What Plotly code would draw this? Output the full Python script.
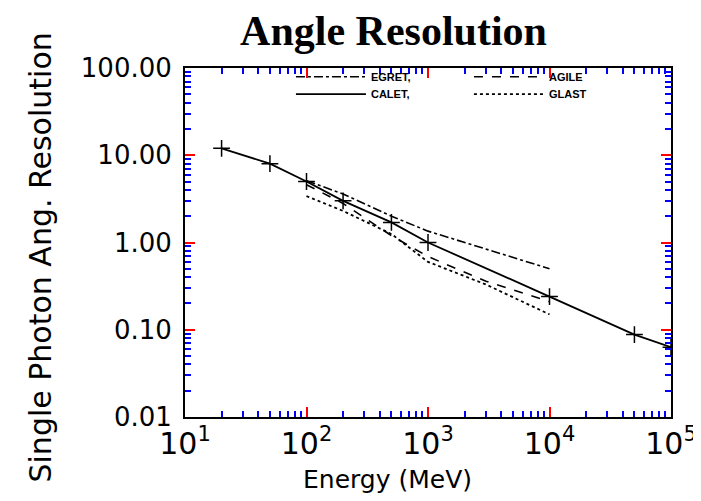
import plotly.graph_objects as go

# Energy (MeV) and single photon angular resolution (deg)
calet_e = [20, 50, 100, 200, 500, 1000, 10000, 50000, 100000]
calet_r = [12.0, 8.0, 5.0, 3.0, 1.7, 1.0, 0.24, 0.088, 0.063]

egret_e = [100, 200, 500, 1000, 10000]
egret_r = [5.1, 3.6, 2.0, 1.35, 0.50]

agile_e = [100, 200, 500, 1000, 3000, 10000]
agile_r = [4.6, 2.8, 1.2, 0.69, 0.36, 0.21]

glast_e = [100, 200, 500, 1000, 3000, 10000]
glast_r = [3.4, 2.3, 1.25, 0.6, 0.33, 0.15]

x_title = "Energy (MeV)"
y_title = "Single Photon Ang. Resolution"

fig = go.Figure()
fig.add_trace(go.Scatter(x=egret_e, y=egret_r, mode="lines", name="EGRET,",
                         line=dict(color="black", width=1.6, dash="dashdot"),
                         legend="legend"))
fig.add_trace(go.Scatter(x=agile_e, y=agile_r, mode="lines", name="AGILE",
                         line=dict(color="black", width=1.6, dash="dash"),
                         legend="legend"))
fig.add_trace(go.Scatter(x=calet_e, y=calet_r, mode="lines", name="CALET,",
                         line=dict(color="black", width=1.8),
                         legend="legend2"))
fig.add_trace(go.Scatter(x=calet_e, y=calet_r, mode="markers", showlegend=False,
                         marker=dict(symbol="cross-thin", size=12, color="black",
                                     line=dict(color="black", width=1.5))))
fig.add_trace(go.Scatter(x=glast_e, y=glast_r, mode="lines", name="GLAST",
                         line=dict(color="black", width=1.8, dash="dot"),
                         legend="legend2"))

axis_common = dict(
    type="log", dtick=1,
    showgrid=True, gridcolor="rgba(0,0,0,0)", zeroline=False,
    showline=True, linecolor="black", linewidth=2, mirror="ticks",
    ticks="inside", ticklen=10, tickwidth=2, tickcolor="red",
    minor=dict(ticks="inside", ticklen=6, tickwidth=1.5, tickcolor="blue",
               dtick="D1", showgrid=True, gridcolor="rgba(0,0,0,0)"),
)

legend_common = dict(
    orientation="h", xanchor="left", yanchor="middle",
    bgcolor="rgba(0,0,0,0)", itemwidth=70,
    entrywidth=93, entrywidthmode="pixels",
    font=dict(family="Liberation Sans", size=11, color="black", weight="bold"),
    traceorder="normal",
)

fig.update_layout(
    width=701, height=501,
    margin=dict(l=177, r=29, t=60, b=92),
    paper_bgcolor="white", plot_bgcolor="white",
    title=dict(text="<b>Angle Resolution</b>", x=0.55, xref="container", xanchor="center",
               y=0.955, yref="container", yanchor="middle",
               font=dict(family="Liberation Serif, Times New Roman, serif", size=42, color="black")),
    xaxis=dict(axis_common, range=[1, 5], exponentformat="power",
               labelalias={"10": "10<sup>1</sup>"},
               tickfont=dict(family="DejaVu Sans", size=24, color="black")),
    yaxis=dict(axis_common, range=[-2, 2], tickformat=".2f",
               ticklabelstandoff=6,
               tickfont=dict(family="DejaVu Sans", size=26, color="black")),
    legend=dict(legend_common, x=0.218, y=0.975),
    legend2=dict(legend_common, x=0.218, y=0.925),
    annotations=[
        dict(text=x_title, xref="paper", yref="paper", x=0.416, y=-0.18,
             xanchor="center", yanchor="middle", showarrow=False,
             font=dict(family="DejaVu Sans", size=25, color="black")),
        dict(text=y_title, xref="paper", yref="paper", x=-0.297, y=0.456,
             xanchor="center", yanchor="middle", textangle=-90, showarrow=False,
             font=dict(family="DejaVu Sans", size=30, color="black")),
    ],
)

fig.write_html("out.html")
